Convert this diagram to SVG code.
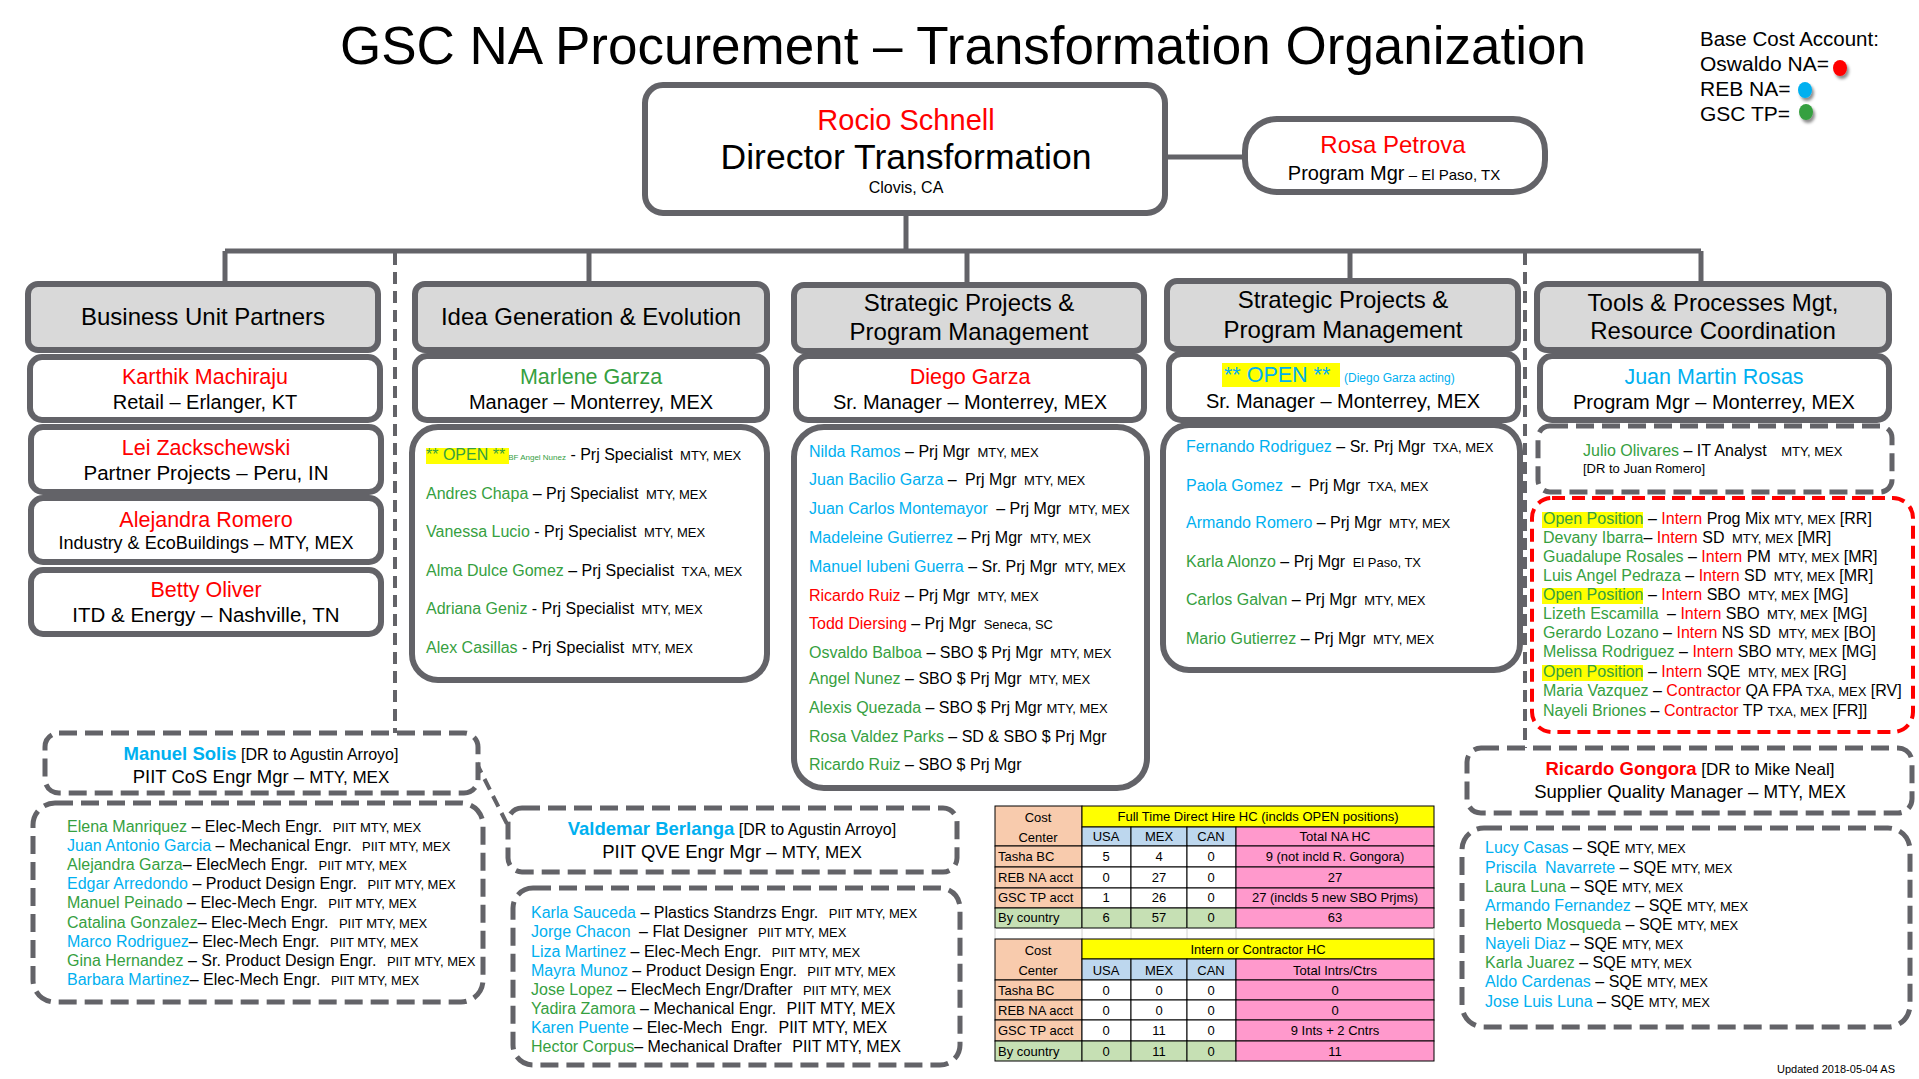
<svg xmlns="http://www.w3.org/2000/svg" width="1919" height="1079" viewBox="0 0 1919 1079">
<style>
text{font-family:"Liberation Sans",Arial,sans-serif;fill:#000}
.box{fill:#fff;stroke:#636368;stroke-width:6}
.hdr{fill:#d9d9d9;stroke:#636368;stroke-width:6}
.dbox{fill:#fff;stroke:#636368;stroke-width:5;stroke-dasharray:18 8}
.rbox{fill:#fff;stroke:#ff0000;stroke-width:4;stroke-dasharray:13 7}
.ln{stroke:#636368;stroke-width:5;fill:none}
.dl{stroke:#636368;stroke-width:4;fill:none;stroke-dasharray:12 7}
.r{fill:#ff0000}.g{fill:#36a03f}.b{fill:#00b0f0}
.l{font-size:16px}.s{font-size:13px}
.c{text-anchor:middle}
.hl{fill:#ffff00}
.tb text{font-size:13px}
.tb rect{stroke:#000;stroke-width:1}
.pe{fill:#f8cbad}.ye{fill:#ffff00}.bl{fill:#bdd7ee}.pk{fill:#ff99cc}.gr{fill:#c6e0b4}.wh{fill:#fff}
</style>
<defs>
<filter id="sh" x="-50%" y="-50%" width="200%" height="200%"><feDropShadow dx="2" dy="3" stdDeviation="1.5" flood-color="#000" flood-opacity="0.45"/></filter>
</defs>

<text x="963" y="64" class="c" font-size="53">GSC NA Procurement – Transformation Organization</text>

<g id="legend">
<text x="1700" y="46" font-size="20.5">Base Cost Account:</text>
<text x="1700" y="71" font-size="21">Oswaldo NA=</text>
<text x="1700" y="96" font-size="21">REB NA=</text>
<text x="1700" y="121" font-size="21">GSC TP=</text>
<ellipse cx="1840" cy="68" rx="7" ry="8" fill="#ff0000" filter="url(#sh)"/>
<ellipse cx="1805" cy="90" rx="7" ry="8" fill="#00b0f0" filter="url(#sh)"/>
<ellipse cx="1806" cy="112" rx="7" ry="8" fill="#36a03f" filter="url(#sh)"/>
</g>

<g id="connectors">
<line class="ln" x1="1165" y1="157" x2="1245" y2="157" stroke-width="6"/>
<line class="ln" x1="906" y1="213" x2="906" y2="251" stroke-width="4"/>
<line class="ln" x1="225" y1="251" x2="1701" y2="251"/>
<line class="ln" x1="225" y1="251" x2="225" y2="284" stroke-width="4"/>
<line class="ln" x1="589" y1="251" x2="589" y2="284" stroke-width="4"/>
<line class="ln" x1="967" y1="251" x2="967" y2="285" stroke-width="4"/>
<line class="ln" x1="1350" y1="251" x2="1350" y2="281" stroke-width="4"/>
<line class="ln" x1="1701" y1="251" x2="1701" y2="284" stroke-width="4"/>
<line class="dl" x1="395" y1="253" x2="395" y2="733"/>
<line class="dl" x1="1525" y1="253" x2="1525" y2="748"/>
<line class="dl" x1="476" y1="762" x2="509" y2="828" stroke-width="5"/>
</g>

<g id="director">
<rect class="box" x="645" y="85" width="520" height="128" rx="18"/>
<text x="906" y="130" class="c r" font-size="29">Rocio Schnell</text>
<text x="906" y="169" class="c" font-size="35.5">Director Transformation</text>
<text x="906" y="193" class="c" font-size="16">Clovis, CA</text>
</g>

<g id="rosa">
<rect class="box" x="1245" y="119" width="300" height="73" rx="32"/>
<text x="1393" y="153" class="c r" font-size="24">Rosa Petrova</text>
<text x="1394" y="180" class="c" font-size="20">Program Mgr<tspan font-size="15"> – El Paso, TX</tspan></text>
</g>

<g id="hdr1"><rect class="hdr" x="28" y="284" width="350" height="66" rx="10"/>
<text x="203" y="325" class="c" font-size="24">Business Unit Partners</text></g>
<g id="hdr2"><rect class="hdr" x="415" y="284" width="352" height="66" rx="10"/>
<text x="591" y="325" class="c" font-size="24">Idea Generation &amp; Evolution</text></g>
<g id="hdr3"><rect class="hdr" x="794" y="285" width="350" height="66" rx="10"/>
<text x="969" y="311" class="c" font-size="24">Strategic Projects &amp;</text>
<text x="969" y="340" class="c" font-size="24">Program Management</text></g>
<g id="hdr4"><rect class="hdr" x="1167" y="281" width="351" height="68" rx="10"/>
<text x="1343" y="308" class="c" font-size="24">Strategic Projects &amp;</text>
<text x="1343" y="338" class="c" font-size="24">Program Management</text></g>
<g id="hdr5"><rect class="hdr" x="1537" y="284" width="352" height="66" rx="10"/>
<text x="1713" y="311" class="c" font-size="24">Tools &amp; Processes Mgt,</text>
<text x="1713" y="339" class="c" font-size="24">Resource Coordination</text></g>

<g id="karthik"><rect class="box" x="30" y="357" width="350" height="63" rx="12"/>
<text x="205" y="384" class="c r" font-size="21.5">Karthik Machiraju</text>
<text x="205" y="409" class="c" font-size="20">Retail – Erlanger, KT</text></g>
<g id="lei"><rect class="box" x="31" y="427" width="350" height="65" rx="12"/>
<text x="206" y="455" class="c r" font-size="21.5">Lei Zackschewski</text>
<text x="206" y="480" class="c" font-size="20.5">Partner Projects – Peru, IN</text></g>
<g id="alejandra"><rect class="box" x="31" y="498" width="350" height="64" rx="12"/>
<text x="206" y="527" class="c r" font-size="21.5">Alejandra Romero</text>
<text x="206" y="549" class="c" font-size="18">Industry &amp; EcoBuildings – MTY, MEX</text></g>
<g id="betty"><rect class="box" x="31" y="570" width="350" height="64" rx="12"/>
<text x="206" y="597" class="c r" font-size="21.5">Betty Oliver</text>
<text x="206" y="622" class="c" font-size="20.5">ITD &amp; Energy – Nashville, TN</text></g>

<g id="marlene"><rect class="box" x="415" y="356" width="352" height="64" rx="12"/>
<text x="591" y="384" class="c g" font-size="21.5">Marlene Garza</text>
<text x="591" y="409" class="c" font-size="20">Manager – Monterrey, MEX</text></g>
<g id="ideaList"><rect class="box" x="412" y="427" width="355" height="253" rx="26"/>
<rect class="hl" x="426" y="448" width="83" height="16"/>
<text x="426" y="460" class="l"><tspan class="g">** OPEN **</tspan><tspan class="g" font-size="8" dx="3">BF Angel Nunez</tspan> - Prj Specialist <tspan class="s" dx="3">MTY, MEX</tspan></text>
<text x="426" y="499" class="l"><tspan class="g">Andres Chapa</tspan> – Prj Specialist <tspan class="s" dx="3">MTY, MEX</tspan></text>
<text x="426" y="537" class="l"><tspan class="g">Vanessa Lucio</tspan> - Prj Specialist <tspan class="s" dx="3">MTY, MEX</tspan></text>
<text x="426" y="576" class="l"><tspan class="g">Alma Dulce Gomez</tspan> – Prj Specialist <tspan class="s" dx="3">TXA, MEX</tspan></text>
<text x="426" y="614" class="l"><tspan class="g">Adriana Geniz</tspan> - Prj Specialist <tspan class="s" dx="3">MTY, MEX</tspan></text>
<text x="426" y="653" class="l"><tspan class="g">Alex Casillas</tspan> - Prj Specialist <tspan class="s" dx="3">MTY, MEX</tspan></text></g>

<g id="diego"><rect class="box" x="796" y="356" width="348" height="64" rx="12"/>
<text x="970" y="384" class="c r" font-size="21.5">Diego Garza</text>
<text x="970" y="409" class="c" font-size="20">Sr. Manager – Monterrey, MEX</text></g>
<g id="spList1"><rect class="box" x="794" y="427" width="353" height="361" rx="30"/>
<text x="809" y="457" class="l"><tspan class="b">Nilda Ramos</tspan> – Prj Mgr <tspan class="s" dx="3">MTY, MEX</tspan></text>
<text x="809" y="485" class="l"><tspan class="b">Juan Bacilio Garza</tspan> – <tspan dx="4">Prj Mgr</tspan> <tspan class="s" dx="3">MTY, MEX</tspan></text>
<text x="809" y="514" class="l"><tspan class="b">Juan Carlos Montemayor</tspan> <tspan dx="4">– Prj Mgr</tspan> <tspan class="s" dx="3">MTY, MEX</tspan></text>
<text x="809" y="543" class="l"><tspan class="b">Madeleine Gutierrez</tspan> – Prj Mgr <tspan class="s" dx="3">MTY, MEX</tspan></text>
<text x="809" y="572" class="l"><tspan class="b">Manuel Iubeni Guerra</tspan> – Sr. Prj Mgr <tspan class="s" dx="3">MTY, MEX</tspan></text>
<text x="809" y="601" class="l"><tspan class="r">Ricardo Ruiz</tspan> – Prj Mgr <tspan class="s" dx="3">MTY, MEX</tspan></text>
<text x="809" y="629" class="l"><tspan class="r">Todd Diersing</tspan> – Prj Mgr <tspan class="s" dx="3">Seneca, SC</tspan></text>
<text x="809" y="658" class="l"><tspan class="g">Osvaldo Balboa</tspan> – SBO $ Prj Mgr <tspan class="s" dx="3">MTY, MEX</tspan></text>
<text x="809" y="684" class="l"><tspan class="g">Angel Nunez</tspan> – SBO $ Prj Mgr <tspan class="s" dx="3">MTY, MEX</tspan></text>
<text x="809" y="713" class="l"><tspan class="g">Alexis Quezada</tspan> – SBO $ Prj Mgr <tspan class="s">MTY, MEX</tspan></text>
<text x="809" y="742" class="l"><tspan class="g">Rosa Valdez Parks</tspan> – SD &amp; SBO $ Prj Mgr</text>
<text x="809" y="770" class="l"><tspan class="g">Ricardo Ruiz</tspan> – SBO $ Prj Mgr</text></g>

<g id="open4"><rect class="box" x="1169" y="354" width="349" height="66" rx="12"/>
<rect class="hl" x="1222" y="363" width="118" height="24"/>
<text x="1224" y="382" font-size="21.5"><tspan class="b">** OPEN **</tspan><tspan class="b" font-size="12" x="1344">(Diego Garza acting)</tspan></text>
<text x="1343" y="408" class="c" font-size="20">Sr. Manager – Monterrey, MEX</text></g>
<g id="spList2"><rect class="box" x="1163" y="425" width="357" height="245" rx="26"/>
<text x="1186" y="452" class="l"><tspan class="b">Fernando Rodriguez</tspan> – Sr. Prj Mgr <tspan class="s" dx="3">TXA, MEX</tspan></text>
<text x="1186" y="491" class="l"><tspan class="b">Paola Gomez</tspan> <tspan dx="4">–</tspan> <tspan dx="4">Prj Mgr</tspan> <tspan class="s" dx="3">TXA, MEX</tspan></text>
<text x="1186" y="528" class="l"><tspan class="b">Armando Romero</tspan> – Prj Mgr <tspan class="s" dx="3">MTY, MEX</tspan></text>
<text x="1186" y="567" class="l"><tspan class="g">Karla Alonzo</tspan> – Prj Mgr <tspan class="s" dx="3">El Paso, TX</tspan></text>
<text x="1186" y="605" class="l"><tspan class="g">Carlos Galvan</tspan> – Prj Mgr <tspan class="s" dx="3">MTY, MEX</tspan></text>
<text x="1186" y="644" class="l"><tspan class="g">Mario Gutierrez</tspan> – Prj Mgr <tspan class="s" dx="3">MTY, MEX</tspan></text></g>

<g id="juan"><rect class="box" x="1540" y="356" width="349" height="64" rx="12"/>
<text x="1714" y="384" class="c b" font-size="21.5">Juan Martin Rosas</text>
<text x="1714" y="409" class="c" font-size="20">Program Mgr – Monterrey, MEX</text></g>
<g id="julio"><rect class="dbox" x="1538" y="426" width="354" height="66" rx="12"/>
<text x="1583" y="456" class="l"><tspan class="g">Julio Olivares</tspan> – IT Analyst <tspan class="s" dx="10">MTY, MEX</tspan></text>
<text x="1583" y="473" class="s">[DR to Juan Romero]</text></g>
<g id="interns"><rect class="rbox" x="1532" y="498" width="381" height="234" rx="20"/>
<rect class="hl" x="1542" y="512" width="101" height="16"/>
<rect class="hl" x="1542" y="588" width="101" height="16"/>
<rect class="hl" x="1542" y="665" width="101" height="16"/>
<text x="1543" y="524" class="l"><tspan class="g">Open Position</tspan> – <tspan class="r">Intern</tspan> Prog Mix <tspan class="s">MTY, MEX</tspan> [RR]</text>
<text x="1543" y="543" class="l"><tspan class="g">Devany Ibarra</tspan>– <tspan class="r">Intern</tspan> SD <tspan class="s" dx="3">MTY, MEX</tspan> [MR]</text>
<text x="1543" y="562" class="l"><tspan class="g">Guadalupe Rosales</tspan> – <tspan class="r">Intern</tspan> PM <tspan class="s" dx="3">MTY, MEX</tspan> [MR]</text>
<text x="1543" y="581" class="l"><tspan class="g">Luis Angel Pedraza</tspan> – <tspan class="r">Intern</tspan> SD <tspan class="s" dx="3">MTY, MEX</tspan> [MR]</text>
<text x="1543" y="600" class="l"><tspan class="g">Open Position</tspan> – <tspan class="r">Intern</tspan> SBO <tspan class="s" dx="3">MTY, MEX</tspan> [MG]</text>
<text x="1543" y="619" class="l"><tspan class="g">Lizeth Escamilla</tspan> <tspan dx="4">–</tspan> <tspan class="r">Intern</tspan> SBO <tspan class="s" dx="3">MTY, MEX</tspan> [MG]</text>
<text x="1543" y="638" class="l"><tspan class="g">Gerardo Lozano</tspan> – <tspan class="r">Intern</tspan> NS SD <tspan class="s" dx="3">MTY, MEX</tspan> [BO]</text>
<text x="1543" y="657" class="l"><tspan class="g">Melissa Rodriguez</tspan> – <tspan class="r">Intern</tspan> SBO <tspan class="s">MTY, MEX</tspan> [MG]</text>
<text x="1543" y="677" class="l"><tspan class="g">Open Position</tspan> – <tspan class="r">Intern</tspan> SQE <tspan class="s" dx="3">MTY, MEX</tspan> [RG]</text>
<text x="1543" y="696" class="l"><tspan class="g">Maria Vazquez</tspan> – <tspan class="r">Contractor</tspan> QA FPA <tspan class="s">TXA, MEX</tspan> [RV]</text>
<text x="1543" y="716" class="l"><tspan class="g">Nayeli Briones</tspan> – <tspan class="r">Contractor</tspan> TP <tspan class="s">TXA, MEX</tspan> [FR]]</text></g>

<g id="manuel"><rect class="dbox" x="45" y="733" width="433" height="60" rx="14"/>
<text x="261" y="760" class="c" font-size="16"><tspan class="b" font-weight="bold" font-size="18.5">Manuel Solis</tspan> [DR to Agustin Arroyo]</text>
<text x="261" y="783" class="c" font-size="18.5">PIIT CoS Engr Mgr – <tspan font-size="17">MTY, MEX</tspan></text></g>
<g id="manuelList"><rect class="dbox" x="33" y="803" width="450" height="199" rx="22"/>
<text x="67" y="832" class="l"><tspan class="g">Elena Manriquez</tspan> – Elec-Mech Engr. <tspan class="s" dx="6">PIIT MTY, MEX</tspan></text>
<text x="67" y="851" class="l"><tspan class="b">Juan Antonio Garcia</tspan> – Mechanical Engr. <tspan class="s" dx="6">PIIT MTY, MEX</tspan></text>
<text x="67" y="870" class="l"><tspan class="g">Alejandra Garza</tspan>– ElecMech Engr. <tspan class="s" dx="6">PIIT MTY, MEX</tspan></text>
<text x="67" y="889" class="l"><tspan class="b">Edgar Arredondo</tspan> – Product Design Engr. <tspan class="s" dx="6">PIIT MTY, MEX</tspan></text>
<text x="67" y="908" class="l"><tspan class="g">Manuel Peinado</tspan> – Elec-Mech Engr. <tspan class="s" dx="6">PIIT MTY, MEX</tspan></text>
<text x="67" y="928" class="l"><tspan class="g">Catalina Gonzalez</tspan>– Elec-Mech Engr. <tspan class="s" dx="6">PIIT MTY, MEX</tspan></text>
<text x="67" y="947" class="l"><tspan class="b">Marco Rodriguez</tspan>– Elec-Mech Engr. <tspan class="s" dx="6">PIIT MTY, MEX</tspan></text>
<text x="67" y="966" class="l"><tspan class="g">Gina Hernandez</tspan> – Sr. Product Design Engr. <tspan class="s" dx="6">PIIT MTY, MEX</tspan></text>
<text x="67" y="985" class="l"><tspan class="b">Barbara Martinez</tspan>– Elec-Mech Engr. <tspan class="s" dx="6">PIIT MTY, MEX</tspan></text></g>

<g id="valdemar"><rect class="dbox" x="508" y="808" width="449" height="64" rx="14"/>
<text x="732" y="835" class="c" font-size="16"><tspan class="b" font-weight="bold" font-size="18.5">Valdemar Berlanga</tspan> [DR to Agustin Arroyo]</text>
<text x="732" y="858" class="c" font-size="18.5">PIIT QVE Engr Mgr – <tspan font-size="17">MTY, MEX</tspan></text></g>
<g id="valdemarList"><rect class="dbox" x="513" y="888" width="447" height="177" rx="20"/>
<text x="531" y="918" class="l"><tspan class="b">Karla Sauceda</tspan> – Plastics Standrzs Engr. <tspan class="s" dx="6">PIIT MTY, MEX</tspan></text>
<text x="531" y="937" class="l"><tspan class="b">Jorge Chacon</tspan> <tspan dx="4">– Flat Designer</tspan> <tspan class="s" dx="6">PIIT MTY, MEX</tspan></text>
<text x="531" y="957" class="l"><tspan class="b">Liza Martinez</tspan> – Elec-Mech Engr. <tspan class="s" dx="6">PIIT MTY, MEX</tspan></text>
<text x="531" y="976" class="l"><tspan class="b">Mayra Munoz</tspan> – Product Design Engr. <tspan class="s" dx="6">PIIT MTY, MEX</tspan></text>
<text x="531" y="995" class="l"><tspan class="g">Jose Lopez</tspan> – ElecMech Engr/Drafter <tspan class="s" dx="6">PIIT MTY, MEX</tspan></text>
<text x="531" y="1014" class="l"><tspan class="g">Yadira Zamora</tspan> – Mechanical Engr. <tspan dx="6">PIIT MTY, MEX</tspan></text>
<text x="531" y="1033" class="l"><tspan class="b">Karen Puente</tspan> – Elec-Mech <tspan dx="4">Engr.</tspan> <tspan dx="6">PIIT MTY, MEX</tspan></text>
<text x="531" y="1052" class="l"><tspan class="g">Hector Corpus</tspan>– Mechanical Drafter <tspan dx="6">PIIT MTY, MEX</tspan></text></g>

<g id="ricardo"><rect class="dbox" x="1467" y="748" width="445" height="65" rx="14"/>
<text x="1690" y="775" class="c" font-size="17"><tspan class="r" font-weight="bold" font-size="18.5">Ricardo Gongora</tspan> [DR to Mike Neal]</text>
<text x="1690" y="798" class="c" font-size="18.5">Supplier Quality Manager – <tspan font-size="17.5">MTY, MEX</tspan></text></g>
<g id="ricardoList"><rect class="dbox" x="1462" y="828" width="448" height="199" rx="22"/>
<text x="1485" y="853" class="l"><tspan class="b">Lucy Casas</tspan> – SQE <tspan class="s">MTY, MEX</tspan></text>
<text x="1485" y="873" class="l"><tspan class="b">Priscila <tspan dx="4">Navarrete</tspan></tspan> – SQE <tspan class="s">MTY, MEX</tspan></text>
<text x="1485" y="892" class="l"><tspan class="g">Laura Luna</tspan> – SQE <tspan class="s">MTY, MEX</tspan></text>
<text x="1485" y="911" class="l"><tspan class="b">Armando Fernandez</tspan> – SQE <tspan class="s">MTY, MEX</tspan></text>
<text x="1485" y="930" class="l"><tspan class="g">Heberto Mosqueda</tspan> – SQE <tspan class="s">MTY, MEX</tspan></text>
<text x="1485" y="949" class="l"><tspan class="b">Nayeli Diaz</tspan> – SQE <tspan class="s">MTY, MEX</tspan></text>
<text x="1485" y="968" class="l"><tspan class="g">Karla Juarez</tspan> – SQE <tspan class="s">MTY, MEX</tspan></text>
<text x="1485" y="987" class="l"><tspan class="b">Aldo Cardenas</tspan> – SQE <tspan class="s">MTY, MEX</tspan></text>
<text x="1485" y="1007" class="l"><tspan class="b">Jose Luis Luna</tspan> – SQE <tspan class="s">MTY, MEX</tspan></text></g>

<g id="hcTables" class="tb">
<rect class="pe" x="995" y="806" width="87" height="40"/>
<rect class="ye" x="1082" y="806" width="352" height="21"/>
<rect class="bl" x="1082" y="827" width="49" height="19"/>
<rect class="bl" x="1131" y="827" width="56" height="19"/>
<rect class="bl" x="1187" y="827" width="49" height="19"/>
<rect class="pk" x="1236" y="827" width="198" height="19"/>
<rect class="pe" x="995" y="846" width="87" height="21"/>
<rect class="wh" x="1082" y="846" width="49" height="21"/><rect class="wh" x="1131" y="846" width="56" height="21"/><rect class="wh" x="1187" y="846" width="49" height="21"/>
<rect class="pk" x="1236" y="846" width="198" height="21"/>
<rect class="pe" x="995" y="867" width="87" height="21"/>
<rect class="wh" x="1082" y="867" width="49" height="21"/><rect class="wh" x="1131" y="867" width="56" height="21"/><rect class="wh" x="1187" y="867" width="49" height="21"/>
<rect class="pk" x="1236" y="867" width="198" height="21"/>
<rect class="pe" x="995" y="888" width="87" height="20"/>
<rect class="wh" x="1082" y="888" width="49" height="20"/><rect class="wh" x="1131" y="888" width="56" height="20"/><rect class="wh" x="1187" y="888" width="49" height="20"/>
<rect class="pk" x="1236" y="888" width="198" height="20"/>
<rect class="gr" x="995" y="908" width="87" height="20"/>
<rect class="gr" x="1082" y="908" width="49" height="20"/><rect class="gr" x="1131" y="908" width="56" height="20"/><rect class="gr" x="1187" y="908" width="49" height="20"/>
<rect class="pk" x="1236" y="908" width="198" height="20"/>
<path d="M995 939V928M1082 939V928M1131 939V928M1187 939V928M1236 939V928M1434 939V928" stroke="#d0d0d0" stroke-width="1"/>
<text x="1038" y="822" class="c">Cost</text><text x="1038" y="842" class="c">Center</text>
<text x="1258" y="821" class="c">Full Time Direct Hire HC (inclds OPEN positions)</text>
<text x="1106" y="841" class="c">USA</text><text x="1159" y="841" class="c">MEX</text><text x="1211" y="841" class="c">CAN</text><text x="1335" y="841" class="c">Total NA HC</text>
<text x="998" y="861">Tasha BC</text><text x="1106" y="861" class="c">5</text><text x="1159" y="861" class="c">4</text><text x="1211" y="861" class="c">0</text><text x="1335" y="861" class="c">9 (not incld R. Gongora)</text>
<text x="998" y="882">REB NA acct</text><text x="1106" y="882" class="c">0</text><text x="1159" y="882" class="c">27</text><text x="1211" y="882" class="c">0</text><text x="1335" y="882" class="c">27</text>
<text x="998" y="902">GSC TP acct</text><text x="1106" y="902" class="c">1</text><text x="1159" y="902" class="c">26</text><text x="1211" y="902" class="c">0</text><text x="1335" y="902" class="c">27 (inclds 5 new SBO Prjms)</text>
<text x="998" y="922">By country</text><text x="1106" y="922" class="c">6</text><text x="1159" y="922" class="c">57</text><text x="1211" y="922" class="c">0</text><text x="1335" y="922" class="c">63</text>

<rect class="pe" x="995" y="939" width="87" height="41"/>
<rect class="ye" x="1082" y="939" width="352" height="20"/>
<rect class="bl" x="1082" y="959" width="49" height="21"/>
<rect class="bl" x="1131" y="959" width="56" height="21"/>
<rect class="bl" x="1187" y="959" width="49" height="21"/>
<rect class="pk" x="1236" y="959" width="198" height="21"/>
<rect class="pe" x="995" y="980" width="87" height="20"/>
<rect class="wh" x="1082" y="980" width="49" height="20"/><rect class="wh" x="1131" y="980" width="56" height="20"/><rect class="wh" x="1187" y="980" width="49" height="20"/>
<rect class="pk" x="1236" y="980" width="198" height="20"/>
<rect class="pe" x="995" y="1000" width="87" height="20"/>
<rect class="wh" x="1082" y="1000" width="49" height="20"/><rect class="wh" x="1131" y="1000" width="56" height="20"/><rect class="wh" x="1187" y="1000" width="49" height="20"/>
<rect class="pk" x="1236" y="1000" width="198" height="20"/>
<rect class="pe" x="995" y="1020" width="87" height="21"/>
<rect class="wh" x="1082" y="1020" width="49" height="21"/><rect class="wh" x="1131" y="1020" width="56" height="21"/><rect class="wh" x="1187" y="1020" width="49" height="21"/>
<rect class="pk" x="1236" y="1020" width="198" height="21"/>
<rect class="gr" x="995" y="1041" width="87" height="20"/>
<rect class="gr" x="1082" y="1041" width="49" height="20"/><rect class="gr" x="1131" y="1041" width="56" height="20"/><rect class="gr" x="1187" y="1041" width="49" height="20"/>
<rect class="pk" x="1236" y="1041" width="198" height="20"/>
<text x="1038" y="955" class="c">Cost</text><text x="1038" y="975" class="c">Center</text>
<text x="1258" y="954" class="c">Intern or Contractor HC</text>
<text x="1106" y="975" class="c">USA</text><text x="1159" y="975" class="c">MEX</text><text x="1211" y="975" class="c">CAN</text><text x="1335" y="975" class="c">Total Intrs/Ctrs</text>
<text x="998" y="995">Tasha BC</text><text x="1106" y="995" class="c">0</text><text x="1159" y="995" class="c">0</text><text x="1211" y="995" class="c">0</text><text x="1335" y="995" class="c">0</text>
<text x="998" y="1015">REB NA acct</text><text x="1106" y="1015" class="c">0</text><text x="1159" y="1015" class="c">0</text><text x="1211" y="1015" class="c">0</text><text x="1335" y="1015" class="c">0</text>
<text x="998" y="1035">GSC TP acct</text><text x="1106" y="1035" class="c">0</text><text x="1159" y="1035" class="c">11</text><text x="1211" y="1035" class="c">0</text><text x="1335" y="1035" class="c">9 Ints + 2 Cntrs</text>
<text x="998" y="1056">By country</text><text x="1106" y="1056" class="c">0</text><text x="1159" y="1056" class="c">11</text><text x="1211" y="1056" class="c">0</text><text x="1335" y="1056" class="c">11</text>
</g>

<text x="1777" y="1073" font-size="11">Updated 2018-05-04 AS</text>
</svg>
